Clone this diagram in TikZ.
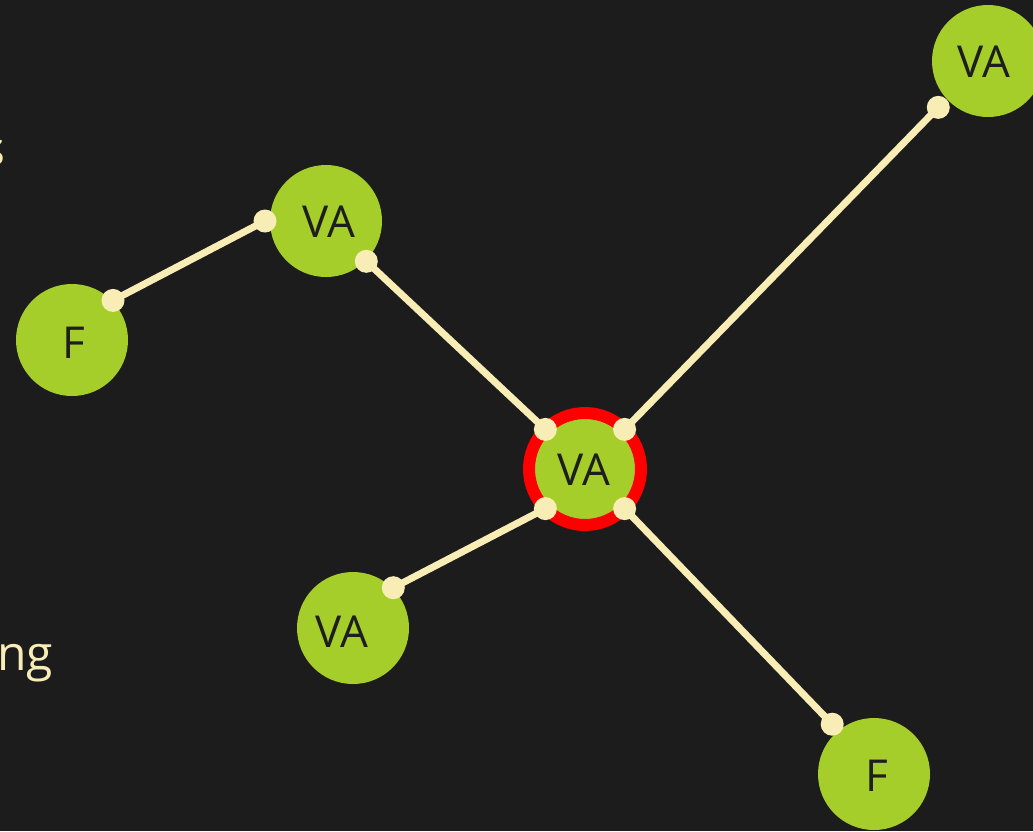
\documentclass[tikz,border=0pt]{standalone}
\usepackage{fontspec}
\setmainfont{Open Sans}
\usetikzlibrary{calc}
\definecolor{bg}{HTML}{1D1C1D}
\definecolor{vgreen}{HTML}{A6CE2A}
\definecolor{cream}{HTML}{F8EDB5}
\definecolor{ink}{HTML}{1E1E1E}
\definecolor{ring}{HTML}{FF0000}
\tikzset{
  vnode/.style={circle,fill=vgreen,draw=none,minimum size=112pt,inner sep=0pt,outer sep=0pt},
  vlabel/.style={text=ink,font=\fontsize{44}{44}\selectfont,inner sep=0pt},
  edge/.style={draw=cream,line width=7pt},
  dot/.style={fill=cream},
  sidetext/.style={text=cream,font=\fontsize{48}{48}\selectfont,inner sep=0pt}
}
\begin{document}
\begin{tikzpicture}[x=1pt,y=-1pt]
\fill[bg] (0,0) rectangle (1033,831);
\useasboundingbox (0,0) rectangle (1033,831);
\clip (0,0) rectangle (1033,831);
% clipped side texts
\node[sidetext,anchor=base east] (s1) at (6,165) {s};
\node[sidetext,anchor=base east] (s2) at (53,670) {ng};
% nodes
\node[vnode] (VA1) at (326,221) {};
\node[vnode] (F1) at (72,340) {};
\node[vnode,draw=ring,line width=12pt] (C) at (585,469) {};
\node[vnode] (VA3) at (353,628) {};
\node[vnode] (F2) at (874,774) {};
\node[vnode] (VA5) at (988,61) {};
% labels
\node[vlabel] (tVA1) at (329,222) {VA};
\node[vlabel] (tF1) at (74,343) {F};
\node[vlabel] (tC) at (584,470) {VA};
\node[vlabel] (tVA3) at (342,632) {VA};
\node[vlabel] (tF2) at (877,776) {F};
\node[vlabel] (tVA5) at (984,62) {VA};
% connector end points (y axis points down, so angles are mirrored)
\coordinate (a1) at ($(VA1)+(180:61)$);
\coordinate (a2) at ($(F1)+(-44:57)$);
\coordinate (b1) at ($(VA1)+(45:57)$);
\coordinate (b2) at ($(C)+(-135:56)$);
\coordinate (c1) at ($(C)+(-45:56)$);
\coordinate (c2) at ($(VA5)+(137:68)$);
\coordinate (d1) at ($(C)+(135:56)$);
\coordinate (d2) at ($(VA3)+(-45:57)$);
\coordinate (e1) at ($(C)+(45:56)$);
\coordinate (e2) at ($(F2)+(-130:65)$);
% connectors
\draw[edge] (a1) -- (a2);
\draw[edge] (b1) -- (b2);
\draw[edge] (c1) -- (c2);
\draw[edge] (d1) -- (d2);
\draw[edge] (e1) -- (e2);
\foreach \p in {a1,a2,b1,b2,c1,c2,d1,d2,e1,e2}
  \fill[dot] (\p) circle (11.5);
\end{tikzpicture}
\end{document}
